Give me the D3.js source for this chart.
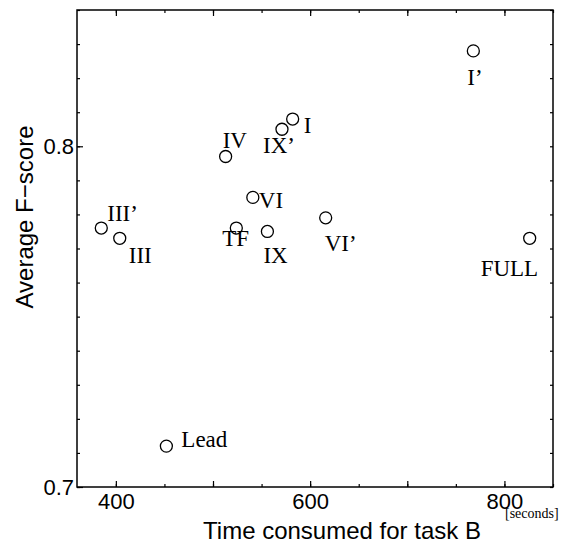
<!DOCTYPE html>
<html>
<head>
<meta charset="utf-8">
<script src="https://cdn.jsdelivr.net/npm/d3@7"></script>
<style>
    body { margin: 0; background: #fff; }
    svg { display: block; }
</style>
</head>
<body>
<div id="chart"></div>
<script>
    // values
    const methods = ['III\u2019', 'III', 'IV', 'IX\u2019', 'I', 'VI', 'TF', 'IX', 'I\u2019', 'VI\u2019', 'FULL', 'Lead'];
    const timeB = [385, 404, 513, 571, 582, 541, 524, 556, 768, 616, 826, 452];
    const fScore = [0.776, 0.773, 0.797, 0.805, 0.808, 0.785, 0.776, 0.775, 0.828, 0.779, 0.773, 0.712];
    const xTicks = [400, 600, 800];
    const yTicks = [0.7, 0.8];

    // where each label sits relative to its circle
    const labelOffset = {
        'III\u2019': [6, -7], 'III': [9, 25], 'IV': [-3, -9], 'IX\u2019': [-19, 24],
        'I': [11, 14], 'VI': [6, 11], 'TF': [-14, 18], 'IX': [-4, 32],
        'I\u2019': [-6, 34], 'VI\u2019': [-1, 33], 'FULL': [-49, 38], 'Lead': [15, 1]
    };

    const svgWidth = 568;
    const svgHeight = 544;
    const margins = {t: 10, r: 15, b: 57, l: 77};
    const graphWidth = svgWidth - margins.l - margins.r;
    const graphHeight = svgHeight - margins.t - margins.b;

    const svg = d3.select('#chart')
        .append('svg')
        .attr('width', svgWidth)
        .attr('height', svgHeight);

    const g = svg.append('g').attr('transform', `translate(${margins.l},${margins.t})`);

    const x = d3.scaleLinear().domain([360, 850]).range([0, graphWidth]);
    const y = d3.scaleLinear().domain([0.7, 0.84]).range([graphHeight, 0]);

    const minorX = d3.range(400, 851, 50);
    const minorY = d3.range(70, 85).map(d => d / 100);

    const sans = "'Liberation Sans', Arial, sans-serif";
    const serif = "'Liberation Serif', 'Times New Roman', serif";

    function styleAxis(sel) {
        sel.select('.domain').remove();
        sel.selectAll('line').attr('stroke', '#000').attr('stroke-width', 1.2);
        sel.selectAll('text').attr('fill', '#000').style('font-family', sans).style('font-size', '22px');
    }

    // minor ticks, all four sides, pointing inward
    g.append('g').attr('transform', `translate(0,${graphHeight})`)
        .call(d3.axisBottom(x).tickValues(minorX).tickSize(-3).tickFormat(''))
        .call(styleAxis);
    g.append('g')
        .call(d3.axisTop(x).tickValues(minorX).tickSize(-3).tickFormat(''))
        .call(styleAxis);
    g.append('g')
        .call(d3.axisLeft(y).tickValues(minorY).tickSize(-3).tickFormat(''))
        .call(styleAxis);
    g.append('g').attr('transform', `translate(${graphWidth},0)`)
        .call(d3.axisRight(y).tickValues(minorY).tickSize(-3).tickFormat(''))
        .call(styleAxis);

    // major ticks with labels
    g.append('g').attr('transform', `translate(0,${graphHeight})`)
        .call(d3.axisBottom(x).tickValues(d3.range(400, 851, 100)).tickSize(-6).tickPadding(6)
            .tickFormat(d => xTicks.includes(d) ? d : ''))
        .call(styleAxis);
    g.append('g')
        .call(d3.axisTop(x).tickValues(d3.range(400, 851, 100)).tickSize(-6).tickFormat(''))
        .call(styleAxis);
    g.append('g')
        .call(d3.axisLeft(y).tickValues(yTicks).tickSize(-6).tickPadding(3).tickFormat(d3.format('.1f')))
        .call(styleAxis);

    // frame
    g.append('rect')
        .attr('width', graphWidth)
        .attr('height', graphHeight)
        .attr('fill', 'none')
        .attr('stroke', '#000')
        .attr('stroke-width', 1.5);

    const points = methods.map((m, i) => ({name: m, t: timeB[i], f: fScore[i]}));

    g.selectAll('circle.pt')
        .data(points)
        .join('circle')
        .attr('class', 'pt')
        .attr('cx', d => x(d.t))
        .attr('cy', d => y(d.f))
        .attr('r', 6)
        .attr('fill', 'none')
        .attr('stroke', '#000')
        .attr('stroke-width', 1.3);

    g.selectAll('text.lbl')
        .data(points)
        .join('text')
        .attr('class', 'lbl')
        .attr('x', d => x(d.t) + labelOffset[d.name][0])
        .attr('y', d => y(d.f) + labelOffset[d.name][1])
        .style('font-family', serif)
        .style('font-size', '23px')
        .attr('fill', '#000')
        .text(d => d.name);

    //axis titles
    svg.append('text')
        .attr('text-anchor', 'middle')
        .attr('x', 342)
        .attr('y', 539)
        .style('font-family', sans)
        .style('font-size', '24px')
        .text('Time consumed for task B');

    svg.append('text')
        .attr('text-anchor', 'middle')
        .attr('transform', 'translate(33,217) rotate(-90)')
        .style('font-family', sans)
        .style('font-size', '24px')
        .text('Average F\u2212score');

    svg.append('text')
        .attr('x', 505)
        .attr('y', 518)
        .style('font-family', serif)
        .style('font-size', '14px')
        .text('[seconds]');
</script>
</body>
</html>
